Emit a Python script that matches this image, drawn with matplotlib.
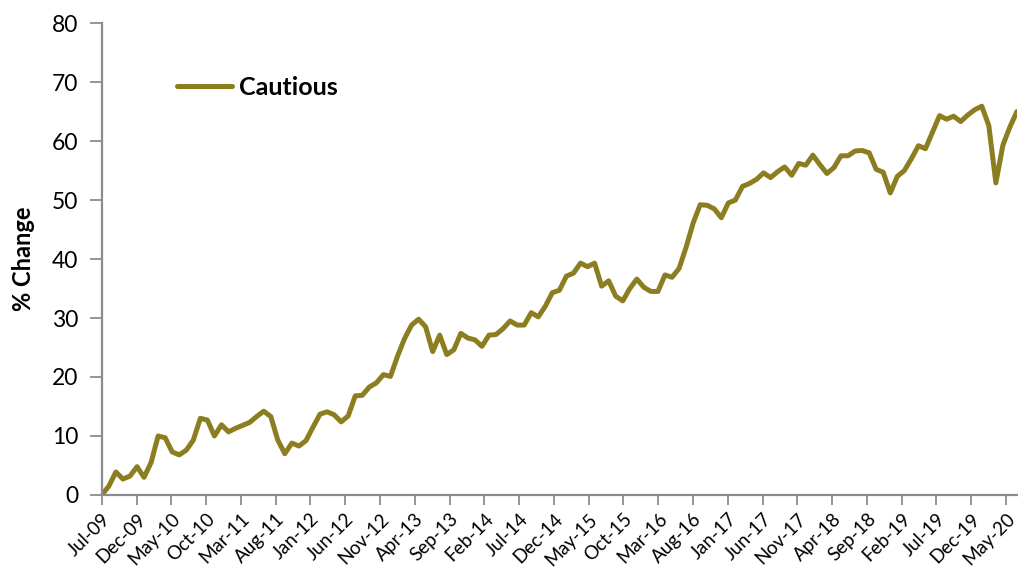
import matplotlib.pyplot as plt
import numpy as np

# monthly values, Jul-09 onwards
cautious = [
    0.0, 1.5, 3.9, 2.7, 3.2, 4.8, 3.0, 5.5, 10.0, 9.7,
    7.3, 6.8, 7.6, 9.3, 13.0, 12.7, 10.0, 11.9, 10.7, 11.3,
    11.8, 12.3, 13.3, 14.2, 13.3, 9.3, 7.0, 8.8, 8.3, 9.2,
    11.5, 13.7, 14.1, 13.6, 12.4, 13.4, 16.8, 16.9, 18.3, 19.0,
    20.4, 20.1, 23.5, 26.5, 28.8, 29.8, 28.5, 24.3, 27.1, 23.8,
    24.6, 27.4, 26.6, 26.3, 25.2, 27.1, 27.2, 28.2, 29.5, 28.8,
    28.8, 30.9, 30.2, 32.0, 34.3, 34.7, 37.1, 37.6, 39.3, 38.7,
    39.3, 35.4, 36.3, 33.7, 32.9, 35.0, 36.6, 35.2, 34.5, 34.5,
    37.3, 36.9, 38.4, 42.0, 46.1, 49.2, 49.1, 48.5, 47.0, 49.5,
    50.0, 52.3, 52.8, 53.5, 54.6, 53.8, 54.8, 55.6, 54.2, 56.2,
    55.9, 57.6, 56.0, 54.5, 55.5, 57.5, 57.5, 58.3, 58.4, 58.0,
    55.2, 54.7, 51.2, 54.0, 55.0, 57.0, 59.2, 58.7, 61.5, 64.3,
    63.7, 64.2, 63.3, 64.4, 65.3, 65.9, 62.6, 52.9, 59.3, 62.4,
    65.0,
]

tick_labels = ['Jul-09', 'Dec-09', 'May-10', 'Oct-10', 'Mar-11', 'Aug-11', 'Jan-12',
               'Jun-12', 'Nov-12', 'Apr-13', 'Sep-13', 'Feb-14', 'Jul-14', 'Dec-14',
               'May-15', 'Oct-15', 'Mar-16', 'Aug-16', 'Jan-17', 'Jun-17', 'Nov-17',
               'Apr-18', 'Sep-18', 'Feb-19', 'Jul-19', 'Dec-19', 'May-20']

# source axis puts a tick every ~150 days, a bit under 5 months
tick_step = 4.94

plt.rcParams['font.family'] = ['Lato', 'DejaVu Sans']

fig = plt.figure(figsize=(10.18, 5.70), dpi=100)
ax = fig.add_axes([0.1, 0.1316, 0.899, 0.828])

months = np.arange(len(cautious))
ax.plot(months, cautious, color='#8C7E20', linewidth=3.6, label='Cautious',
        solid_capstyle='round', solid_joinstyle='round')

ax.set_xlim(0, len(cautious) - 1)
ax.set_ylim(0, 80)
ax.set_yticks(range(0, 81, 10))
ax.set_xticks(np.arange(len(tick_labels)) * tick_step)
ax.set_xticklabels(tick_labels, rotation=45, ha='right', rotation_mode='anchor', fontsize=13.5)
ax.tick_params(axis='y', labelsize=16.5, length=9, width=1.3, color='#8C8C8C', pad=8)
ax.tick_params(axis='x', length=7, width=1.3, color='#8C8C8C', pad=4)

for s in ['top', 'right']:
    ax.spines[s].set_visible(False)
for s in ['left', 'bottom']:
    ax.spines[s].set_color('#8C8C8C')
    ax.spines[s].set_linewidth(1.6)

ax.set_ylabel('% Change', fontsize=17, fontweight='bold', labelpad=12)

ax.legend(loc='center left', bbox_to_anchor=(0.058, 0.864), frameon=False,
          handlelength=2.2, handletextpad=0.25, prop={'weight': 'bold', 'size': 18})

fig.savefig('out.png', dpi=100)
